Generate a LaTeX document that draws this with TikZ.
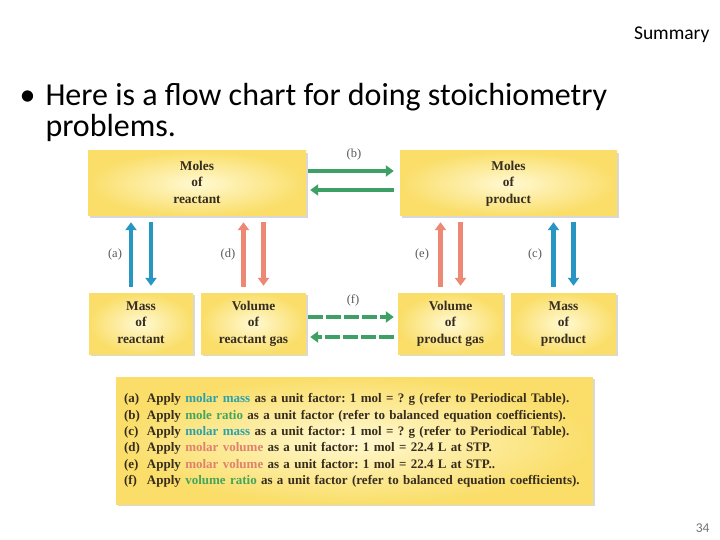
\documentclass[tikz,border=0pt]{standalone}
\usepackage{fontspec}
\setmainfont{Liberation Serif}
\newfontfamily\slidefont{Carlito}
\usetikzlibrary{arrows.meta,shadows}
\frenchspacing

\definecolor{boxyellow}{RGB}{250,222,105}
\definecolor{boxlight}{RGB}{255,249,210}
\definecolor{arrblue}{RGB}{40,150,195}
\definecolor{arrsalmon}{RGB}{236,136,116}
\definecolor{arrgreen}{RGB}{62,160,100}
\definecolor{inkbrown}{RGB}{55,45,30}
\definecolor{wordteal}{RGB}{45,160,170}
\definecolor{wordgreen}{RGB}{70,165,90}
\definecolor{wordsalmon}{RGB}{222,130,110}

\begin{document}
\begin{tikzpicture}[x=1pt, y=-1pt,
    box/.style={rectangle, inner color=boxlight, outer color=boxyellow,
      drop shadow={shadow xshift=2pt, shadow yshift=-2pt, opacity=0.3},
      align=center, text=inkbrown, font=\bfseries\fontsize{13.4}{16.5}\selectfont},
    flow/.style={draw=#1, line width=4.5pt, -{Triangle[width=11pt,length=8pt]}},
    tag/.style={text=black!65, font=\fontsize{12.5}{14}\selectfont}]
    \useasboundingbox[fill=white] (0,0) rectangle (720,540);
    % slide text
    \node[anchor=base east, font=\slidefont\fontsize{19.5}{22}\selectfont] (summary) at (713,40) {Summary};
    \node[anchor=base west, font=\slidefont\fontsize{32}{38}\selectfont] (bullet) at (16,106) {•};
    \node[anchor=base west, font=\slidefont\fontsize{32}{38}\selectfont] (title1) at (42,106) {Here is a flow chart for doing stoichiometry};
    \node[anchor=base west, font=\slidefont\fontsize{32}{38}\selectfont] (title2) at (42,137) {problems.};
    \node[anchor=base east, text=black!55, font=\slidefont\fontsize{13.5}{15}\selectfont] (page) at (713,532) {34};
    % boxes
    \node[box, minimum width=218pt, minimum height=65pt] (molr) at (197,183.5) {\strut Moles\\of\\reactant\strut};
    \node[box, minimum width=217pt, minimum height=65pt] (molp) at (508.5,183.5) {\strut Moles\\of\\product\strut};
    \node[box, minimum width=104pt, minimum height=61pt] (massr) at (141,323.5) {\strut Mass\\of\\reactant\strut};
    \node[box, minimum width=105pt, minimum height=61pt] (volr) at (253.5,323.5) {\strut Volume\\of\\reactant gas\strut};
    \node[box, minimum width=105pt, minimum height=61pt] (volp) at (450.5,323.5) {\strut Volume\\of\\product gas\strut};
    \node[box, minimum width=105pt, minimum height=61pt] (massp) at (563.5,323.5) {\strut Mass\\of\\product\strut};
    % vertical arrows
    \foreach \b/\c in {massr/arrblue, volr/arrsalmon, volp/arrsalmon, massp/arrblue} {
      \draw[flow=\c, shorten <=6pt, shorten >=6pt] ([xshift=-10pt]\b.north) -- ([xshift=-10pt]\b.north |- molr.south);
      \draw[flow=\c, shorten <=6pt, shorten >=7pt] ([xshift=10pt]\b.north |- molr.south) -- ([xshift=10pt]\b.north);
    }
    % horizontal arrows
    \draw[flow=arrgreen, shorten <=2pt, shorten >=6pt] ([yshift=12.5pt]molr.east) -- ([yshift=12.5pt]molp.west);
    \draw[flow=arrgreen, shorten <=6pt, shorten >=4pt] ([yshift=-6.5pt]molp.west) -- ([yshift=-6.5pt]molr.east);
    \draw[flow=arrgreen, dash pattern=on 15pt off 3pt, shorten <=2pt, shorten >=4pt] ([yshift=6.5pt]volr.east) -- ([yshift=6.5pt]volp.west);
    \draw[flow=arrgreen, dash pattern=on 15pt off 3pt, shorten <=4pt, shorten >=4pt] ([yshift=-13.5pt]volp.west) -- ([yshift=-13.5pt]volr.east);
    % labels
    \node[tag] (la) at (115,254) {(a)};
    \node[tag] (lb) at (354,154) {(b)};
    \node[tag] (lc) at (535,254) {(c)};
    \node[tag] (ld) at (228,254) {(d)};
    \node[tag] (le) at (422,254) {(e)};
    \node[tag] (lf) at (353,300) {(f)};
    % legend
    \node[box, minimum width=477pt, minimum height=127pt, text width=461pt, inner xsep=8pt, align=left,
      font=\bfseries\fontsize{13}{16.4}\selectfont] (legend) at (354.5,440.5) {%
      \makebox[23pt][l]{(a)}Apply \textcolor{wordteal}{molar mass} as a unit factor: 1 mol = ? g (refer to Periodical Table).\\
      \makebox[23pt][l]{(b)}Apply \textcolor{wordgreen}{mole ratio} as a unit factor (refer to balanced equation coefficients).\\
      \makebox[23pt][l]{(c)}Apply \textcolor{wordteal}{molar mass} as a unit factor: 1 mol = ? g (refer to Periodical Table).\\
      \makebox[23pt][l]{(d)}Apply \textcolor{wordsalmon}{molar volume} as a unit factor: 1 mol = 22.4 L at STP.\\
      \makebox[23pt][l]{(e)}Apply \textcolor{wordsalmon}{molar volume} as a unit factor: 1 mol = 22.4 L at STP..\\
      \makebox[23pt][l]{(f)}Apply \textcolor{wordgreen}{volume ratio} as a unit factor (refer to balanced equation coefficients).};
\end{tikzpicture}
\end{document}
